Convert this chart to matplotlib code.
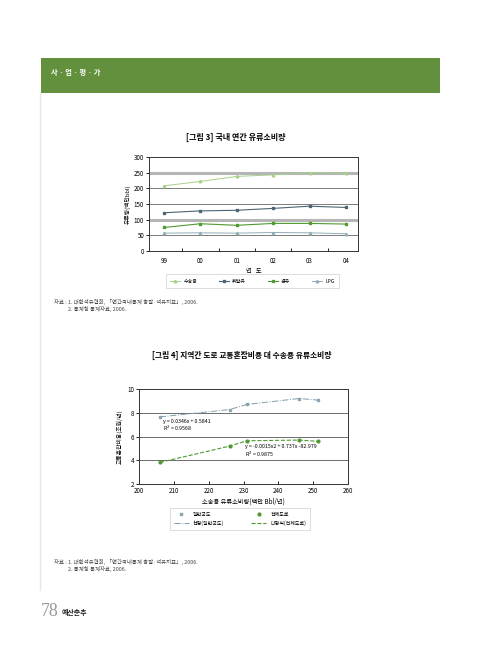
import numpy as np
import matplotlib
matplotlib.use("Agg")
import matplotlib.pyplot as plt
from matplotlib.patches import Rectangle
from matplotlib.lines import Line2D

plt.rcParams['font.family'] = ['Noto Sans CJK KR', 'DejaVu Sans']

# ---- chart 3 data ----
years = ['99', '00', '01', '02', '03', '04']
transport = [208, 222, 238, 243, 250, 248]   # 수송용
gasoline = [122, 128, 130, 136, 143, 139]    # 휘발유
diesel = [75, 87, 82, 88, 88, 86]            # 경유
lpg = [57, 58, 57, 59, 58, 55]               # LPG

# ---- chart 4 data ----
fuel_x = [206, 226, 231, 246, 251.5]
national_road = [7.65, 8.27, 8.7, 9.2, 9.06]   # 일반국도
all_road = [3.82, 5.19, 5.64, 5.7, 5.59]       # 전체도로

W, H = 480, 657
fig = plt.figure(figsize=(W / 100, H / 100), dpi=100)

# page background in pixel coordinates
bg = fig.add_axes([0, 0, 1, 1])
bg.set_xlim(0, W)
bg.set_ylim(H, 0)
bg.axis('off')
bg.add_patch(Rectangle((41, 58), 399, 35, color='#62903c', lw=0))
bg.text(51, 73, '사 · 업 · 평 · 가', color='white', fontsize=5.2, fontweight='bold', va='center')
bg.plot([40, 40], [93, 590], color='#e3eadb', lw=1)

src1 = '자료 : 1. 대한석유협회, 「연간국내통계 총괄·석유지표」, 2006.'
src2 = '2. 통계청 통계자료, 2006.'
for y0 in (302, 562):
    bg.text(54, y0, src1, fontsize=3.9, color='#444444', va='center')
    bg.text(68, y0 + 7.5, src2, fontsize=3.9, color='#444444', va='center')

bg.text(41, 612, '78', fontsize=13, color='#9a9a9a', family=['Liberation Serif', 'DejaVu Serif'], va='center')
bg.text(62, 612, '예산춘추', fontsize=5, fontweight='bold', color='#222222', va='center')

bg.text(236, 137, '[그림 3] 국내 연간 유류소비량', fontsize=5.8, fontweight='bold', ha='center', va='center')
bg.text(242, 355, '[그림 4] 지역간 도로 교통혼잡비용 대 수송용 유류소비량', fontsize=5.6, fontweight='bold',
        ha='center', va='center')


def box(l, r, t, b):
    return [l / W, 1 - b / H, (r - l) / W, (b - t) / H]


# ======================= chart 3 =======================
ax1 = fig.add_axes(box(149, 358, 157, 251))
x = np.arange(len(years))
for yv in [50, 150, 200]:
    ax1.axhline(yv, color='#666666', lw=0.6, zorder=1)
for yv in [100, 250]:
    ax1.axhline(yv, color='#b5b5b5', lw=2.2, zorder=1)
ax1.plot(x, transport, color='#a6d08a', marker='^', ms=1.8, lw=0.7, label='수송용', zorder=3)
ax1.plot(x, gasoline, color='#4b6572', marker='s', ms=1.8, lw=0.8, label='휘발유', zorder=3)
ax1.plot(x, diesel, color='#4f9a2f', marker='s', ms=1.8, lw=0.8, label='경유', zorder=3)
ax1.plot(x, lpg, color='#8fadb8', marker='^', ms=1.8, lw=0.7, label='LPG', zorder=3)
ax1.set_xlim(-0.41, 5.33)
ax1.set_ylim(0, 300)
ax1.set_yticks(range(0, 301, 50))
ax1.set_xticks(x)
ax1.set_xticklabels(years)
ax1.set_xticks(np.arange(0.5, 5, 1), minor=True)
ax1.tick_params(axis='x', which='major', length=0, labelsize=4.5, pad=4)
ax1.tick_params(axis='x', which='minor', length=2.5, direction='in', width=0.6)
ax1.tick_params(axis='y', length=2, width=0.6, labelsize=4.5, pad=1.5)
for s in ax1.spines.values():
    s.set_linewidth(0.7)
    s.set_color('#333333')
ax1.set_xlabel('연   도', fontsize=4.5, labelpad=2)
ax1.set_ylabel('유류량(백만bbl)', fontsize=4.2, labelpad=2)
leg1 = ax1.legend(ncol=4, loc='center', bbox_to_anchor=(0.495, -0.32), fontsize=3.6,
                  frameon=True, fancybox=False, edgecolor='#c8d0c8', handlelength=2.0,
                  columnspacing=4.4, borderpad=0.9, handletextpad=0.6)
leg1.get_frame().set_linewidth(0.6)

# ======================= chart 4 =======================
ax2 = fig.add_axes(box(139, 348, 389, 484))
for yv in [4, 6, 8]:
    ax2.axhline(yv, color='#555555', lw=0.6, zorder=1)
ax2.plot(fuel_x, national_road, color='#7f9daa', ls='-.', lw=0.7, zorder=2)
ax2.plot(fuel_x, all_road, color='#4f9a2f', ls='--', lw=0.8, zorder=2)
ax2.plot(fuel_x, national_road, ls='none', marker='s', ms=1.8, color='#8aa4b0', zorder=3)
ax2.plot(fuel_x, all_road, ls='none', marker='o', ms=2.0, color='#4f9a2f', zorder=3)
ax2.text(206.9, 7.24, 'y = 0.0346x + 0.5841', fontsize=3.8, style='italic', va='center')
ax2.text(206.9, 6.68, 'R$^2$ = 0.9568', fontsize=3.8, style='italic', va='center')
ax2.text(230.5, 5.12, 'y = -0.0015x2 + 0.737x -82.979', fontsize=3.8, style='italic', va='center')
ax2.text(230.5, 4.52, 'R$^2$ = 0.9875', fontsize=3.8, style='italic', va='center')
ax2.set_xlim(200, 260)
ax2.set_ylim(2, 10)
ax2.set_xticks(range(200, 261, 10))
ax2.set_yticks(range(2, 11, 2))
ax2.tick_params(axis='x', length=2, direction='in', width=0.6, labelsize=4.5, pad=2)
ax2.tick_params(axis='y', length=2, width=0.6, labelsize=4.5, pad=1.5)
for s in ax2.spines.values():
    s.set_linewidth(0.7)
    s.set_color('#333333')
ax2.set_xlabel('소송용 유류소비량(백만 Bbl/년)', fontsize=4.5, labelpad=2)
ax2.set_ylabel('교통혼잡비용(조원/년)', fontsize=4.2, labelpad=3)
handles = [
    Line2D([], [], ls='none', marker='s', ms=1.8, color='#8aa4b0'),
    Line2D([], [], color='#7f9daa', ls='-.', lw=0.7),
    Line2D([], [], ls='none', marker='o', ms=2.0, color='#4f9a2f'),
    Line2D([], [], color='#4f9a2f', ls='--', lw=0.8),
]
labels = ['일반국도', '선형(일반국도)', '전체도로', '다항식(전체도로)']
leg2 = ax2.legend(handles, labels, ncol=2, loc='center', bbox_to_anchor=(0.483, -0.37), fontsize=3.6,
                  frameon=True, fancybox=False, edgecolor='#c8d0c8', handlelength=3.0,
                  columnspacing=5.5, borderpad=0.8, handletextpad=0.8, labelspacing=0.7)
leg2.get_frame().set_linewidth(0.6)

fig.savefig('out.png', dpi=100)
